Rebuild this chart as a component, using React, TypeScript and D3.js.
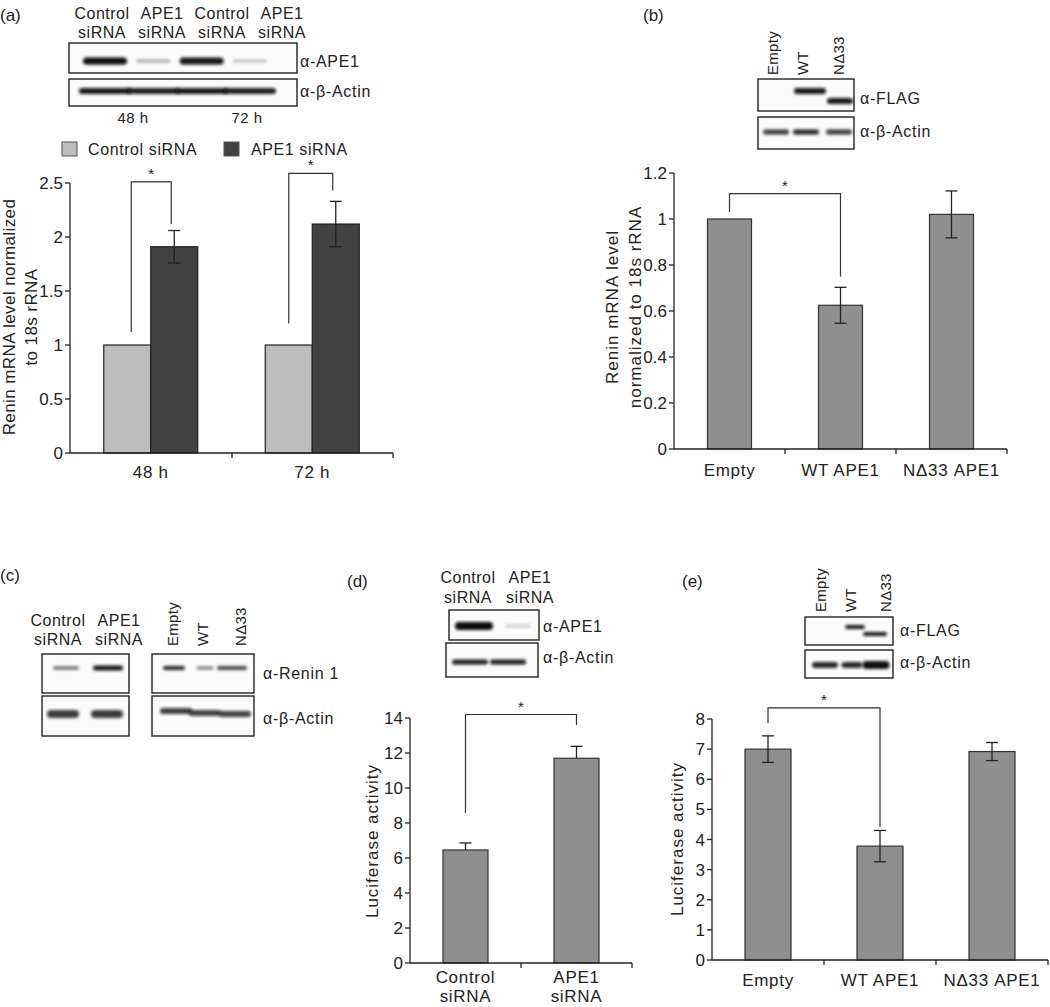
import React from "react";
import * as d3 from "d3";

const FONT = "'Liberation Sans', Arial, Helvetica, sans-serif";
const INK = "#222";

// ---------- Panel (a) ----------
const aGroups = ["48 h", "72 h"];
const aSeries = ["Control siRNA", "APE1 siRNA"];
const aControl = [1.0, 1.0];
const aApe1 = [1.91, 2.12];
const aApe1Err = [0.15, 0.21];
const aTicks = [0, 0.5, 1, 1.5, 2, 2.5];
const aBrackets = [
  [1.12, 2.51, 2.12],
  [1.2, 2.59, 2.43],
];
const aBlotHeaders = [["Control", "siRNA"], ["APE1", "siRNA"], ["Control", "siRNA"], ["APE1", "siRNA"]];
const aBlotApe1 = [1.0, 0.35, 0.95, 0.25];
const aBlotActin = [0.95, 0.92, 0.95, 0.92];
const aTimes = ["48 h", "72 h"];

// ---------- Panel (b) ----------
const bCats = ["Empty", "WT APE1", "NΔ33 APE1"];
const bVals = [1.0, 0.625, 1.02];
const bErr = [0, 0.078, 0.102];
const bTicks = [0, 0.2, 0.4, 0.6, 0.8, 1, 1.2];
const bBracket = [1.03, 1.11, 0.75];
const bLanes = ["Empty", "WT", "NΔ33"];
const bBlotFlag = [0, 0.95, 0.95];
const bBlotActin = [0.8, 0.9, 0.8];

// ---------- Panel (c) ----------
const cLanesL = [["Control", "siRNA"], ["APE1", "siRNA"]];
const cLanesR = ["Empty", "WT", "NΔ33"];
const cReninL = [0.65, 0.95];
const cReninR = [0.9, 0.55, 0.75];
const cActinL = [0.8, 0.8];
const cActinR = [0.8, 0.78, 0.78];

// ---------- Panel (d) ----------
const dCats = [["Control", "siRNA"], ["APE1", "siRNA"]];
const dVals = [6.46, 11.7];
const dErr = [0.4, 0.68];
const dTicks = [0, 2, 4, 6, 8, 10, 12, 14];
const dBracket = [8.57, 14.2, 13.6];
const dBlotApe1 = [1.0, 0.18];
const dBlotActin = [0.92, 0.92];

// ---------- Panel (e) ----------
const eCats = ["Empty", "WT APE1", "NΔ33 APE1"];
const eVals = [7.0, 3.78, 6.92];
const eErr = [0.44, 0.52, 0.3];
const eTicks = [0, 1, 2, 3, 4, 5, 6, 7, 8];
const eBracket = [7.87, 8.37, 4.42];
const eBlotFlag = [0, 0.95, 0.95];
const eBlotActin = [0.88, 0.88, 0.98];

const txt = (extra: any = {}) => ({ fontFamily: FONT, fill: INK, ...extra });
const LBL = { fontSize: 17, letterSpacing: 1.0 };
const CAT = { fontSize: 17, letterSpacing: 0.7 };
const BLT = { fontSize: 16, letterSpacing: 0.7 };

function Band({ cx, cy, w, h, op }: { cx: number; cy: number; w: number; h: number; op: number }) {
  if (op <= 0) return null;
  return (
    <rect x={cx - w / 2} y={cy - h / 2} width={w} height={h} rx={h / 2} ry={h / 2}
      fill="#0a0a0a" opacity={op} filter="url(#blur)" />
  );
}

function BlotBox({ x, y, w, h }: { x: number; y: number; w: number; h: number }) {
  return <rect x={x} y={y} width={w} height={h} fill="#fbfbfb" stroke={INK} strokeWidth={1.4} />;
}

function RotLabel({ x, y, t }: { x: number; y: number; t: string }) {
  return (
    <text transform={`translate(${x + 6},${y}) rotate(-90)`} style={txt({ fontSize: 15, letterSpacing: 0.3 })}>{t}</text>
  );
}

function YAxis({ x, y, ticks, fmt }: { x: number; y: d3.ScaleLinear<number, number>; ticks: number[]; fmt?: (v: number) => string }) {
  const f = fmt || ((v: number) => String(v));
  const r = y.range();
  return (
    <g>
      <line x1={x} x2={x} y1={r[0]} y2={r[1]} stroke={INK} strokeWidth={1.3} />
      {ticks.map((t) => (
        <g key={t}>
          <line x1={x - 5} x2={x} y1={y(t)} y2={y(t)} stroke={INK} strokeWidth={1.3} />
          <text x={x - 7} y={y(t)} dy="0.36em" textAnchor="end" style={txt({ fontSize: 17 })}>{f(t)}</text>
        </g>
      ))}
    </g>
  );
}

function Bracket({ xl, xr, yl, yt, yr }: { xl: number; xr: number; yl: number; yt: number; yr: number }) {
  return (
    <g>
      <path d={`M${xl},${yl}V${yt}H${xr}V${yr}`} fill="none" stroke="#333" strokeWidth={1.2} />
      <text x={(xl + xr) / 2} y={yt - 3} textAnchor="middle" style={txt({ fontSize: 15 })}>*</text>
    </g>
  );
}

function BarChart(p: {
  x0: number; x1: number; yBottom: number; yTop: number; max: number; ticks: number[];
  cats: string[][]; vals: number[]; errs: number[]; upOnly?: boolean; barW: number;
  bracket: number[]; yLabel: string[]; yLabelX: number[]; yLabelY: number; catY: number; lineGap?: number;
}) {
  const x = d3.scaleBand<number>().domain(p.vals.map((_, i) => i)).range([p.x0, p.x1]);
  const y = d3.scaleLinear().domain([0, p.max]).range([p.yBottom, p.yTop]);
  const cx = (i: number) => (x(i) as number) + x.bandwidth() / 2;
  const bounds = [...p.vals.map((_, i) => x(i) as number), p.x1];
  return (
    <g>
      {p.vals.map((v, i) => (
        <rect key={i} x={cx(i) - p.barW / 2} y={y(v)} width={p.barW} height={y(0) - y(v)}
          fill="#8f8f8f" stroke="#333" strokeWidth={1.2} />
      ))}
      {p.vals.map((v, i) => {
        const e = p.errs[i];
        if (!e) return null;
        const lo = p.upOnly ? v : v - e;
        return (
          <g key={"e" + i} stroke="#222" strokeWidth={1.3}>
            <line x1={cx(i)} x2={cx(i)} y1={y(lo)} y2={y(v + e)} />
            <line x1={cx(i) - 6} x2={cx(i) + 6} y1={y(v + e)} y2={y(v + e)} />
            {!p.upOnly && <line x1={cx(i) - 6} x2={cx(i) + 6} y1={y(v - e)} y2={y(v - e)} />}
          </g>
        );
      })}
      <line x1={p.x0} x2={p.x1} y1={y(0)} y2={y(0)} stroke={INK} strokeWidth={1.3} />
      {bounds.slice(1).map((b, i) => (
        <line key={"t" + i} x1={b} x2={b} y1={y(0)} y2={y(0) + 5} stroke={INK} strokeWidth={1.3} />
      ))}
      <YAxis x={p.x0} y={y} ticks={p.ticks} />
      {p.cats.map((c, i) => (
        <text key={"c" + i} x={cx(i)} y={p.catY} textAnchor="middle" style={txt(CAT)}>
          {c.map((line, j) => (
            <tspan key={j} x={cx(i)} dy={j === 0 ? "0.36em" : (p.lineGap || 21)}>{line}</tspan>
          ))}
        </text>
      ))}
      <Bracket xl={cx(0)} xr={cx(1)} yl={y(p.bracket[0])} yt={y(p.bracket[1])} yr={y(p.bracket[2])} />
      {p.yLabel.map((l, i) => (
        <text key={"yl" + i} transform={`translate(${p.yLabelX[i]},${p.yLabelY}) rotate(-90)`}
          dy="0.36em" textAnchor="middle" style={txt(LBL)}>{l}</text>
      ))}
    </g>
  );
}

function PanelA() {
  const g = d3.scaleBand<string>().domain(aGroups).range([70, 393]);
  const s = d3.scaleBand<string>().domain(aSeries).range([0, 94]);
  const y = d3.scaleLinear().domain([0, 2.5]).range([453, 183]);
  const colors = ["#bdbdbd", "#424242"];
  const series = [aControl, aApe1];
  const gx = (k: string) => (g(k) as number) + g.bandwidth() / 2 - 47;
  const lanes = d3.scalePoint<number>().domain([0, 1, 2, 3]).range([105, 250]);
  const headX = d3.scalePoint<number>().domain([0, 1, 2, 3]).range([102, 282]);
  return (
    <g>
      <text x={0} y={21} style={txt({ fontSize: 17 })}>(a)</text>
      {aBlotHeaders.map((h, i) => (
        <text key={i} x={headX(i)} y={19} textAnchor="middle" style={txt({ fontSize: 16, letterSpacing: 0.5 })}>
          <tspan x={headX(i)}>{h[0]}</tspan>
          <tspan x={headX(i)} dy={19}>{h[1]}</tspan>
        </text>
      ))}
      <BlotBox x={69} y={43} w={228} h={30} />
      <BlotBox x={69} y={79} w={228} h={27} />
      {aBlotApe1.map((v, i) => (
        <Band key={"a" + i} cx={lanes(i) as number} cy={61} w={v > 0.5 ? 44 : 34} h={v > 0.5 ? 7 : 3} op={v} />
      ))}
      {aBlotActin.map((v, i) => (
        <Band key={"b" + i} cx={lanes(i) as number} cy={91} w={52} h={6} op={v} />
      ))}
      <text x={300} y={61} dy="0.36em" style={txt(BLT)}>α-APE1</text>
      <text x={300} y={91} dy="0.36em" style={txt(BLT)}>α-β-Actin</text>
      {aTimes.map((t, i) => (
        <text key={t} x={i === 0 ? 133 : 247} y={118} dy="0.36em" textAnchor="middle" style={txt({ fontSize: 15, letterSpacing: 0.4 })}>{t}</text>
      ))}
      {aSeries.map((sName, i) => (
        <g key={sName}>
          <rect x={i === 0 ? 62 : 224} y={142} width={15} height={14} fill={colors[i]} stroke="#555" strokeWidth={1} />
          <text x={i === 0 ? 88 : 251} y={149} dy="0.36em" style={txt({ fontSize: 16, letterSpacing: 0.6 })}>{sName}</text>
        </g>
      ))}
      {aGroups.map((grp, gi) =>
        series.map((vals, si) => (
          <rect key={grp + si} x={gx(grp) + (s(aSeries[si]) as number)} y={y(vals[gi])}
            width={s.bandwidth()} height={y(0) - y(vals[gi])} fill={colors[si]} stroke="#222" strokeWidth={1.2} />
        ))
      )}
      {aGroups.map((grp, gi) => {
        const cx = gx(grp) + (s(aSeries[1]) as number) + s.bandwidth() / 2;
        const v = aApe1[gi], e = aApe1Err[gi];
        return (
          <g key={"err" + grp} stroke="#222" strokeWidth={1.3}>
            <line x1={cx} x2={cx} y1={y(v - e)} y2={y(v + e)} />
            <line x1={cx - 6} x2={cx + 6} y1={y(v + e)} y2={y(v + e)} />
            <line x1={cx - 6} x2={cx + 6} y1={y(v - e)} y2={y(v - e)} />
          </g>
        );
      })}
      {aGroups.map((grp, gi) => {
        const xl = gx(grp) + (s(aSeries[0]) as number) + s.bandwidth() / 2 + (gi === 0 ? 4 : 0);
        const xr = gx(grp) + (s(aSeries[1]) as number) + s.bandwidth() / 2 - 3;
        const b = aBrackets[gi];
        return <Bracket key={"br" + grp} xl={xl} xr={xr} yl={y(b[0])} yt={y(b[1])} yr={y(b[2])} />;
      })}
      <line x1={70} x2={393} y1={453} y2={453} stroke={INK} strokeWidth={1.3} />
      {[232, 393].map((b) => (
        <line key={b} x1={b} x2={b} y1={453} y2={458} stroke={INK} strokeWidth={1.3} />
      ))}
      <YAxis x={70} y={y} ticks={aTicks} />
      {aGroups.map((grp) => (
        <text key={"x" + grp} x={(g(grp) as number) + g.bandwidth() / 2} y={472} dy="0.36em" textAnchor="middle"
          style={txt(CAT)}>{grp}</text>
      ))}
      <text transform="translate(9,317) rotate(-90)" dy="0.36em" textAnchor="middle" style={txt({ fontSize: 17, letterSpacing: 0.4 })}>
        Renin mRNA level normalized
      </text>
      <text transform="translate(31,317) rotate(-90)" dy="0.36em" textAnchor="middle" style={txt({ fontSize: 17, letterSpacing: 0.4 })}>
        to 18s rRNA
      </text>
    </g>
  );
}

function PanelB() {
  const laneX = [776, 806, 839];
  const labX = [772, 802, 838];
  return (
    <g>
      <text x={643} y={21} style={txt({ fontSize: 17 })}>(b)</text>
      {bLanes.map((l, i) => <RotLabel key={l} x={labX[i]} y={75} t={l} />)}
      <BlotBox x={758} y={79} w={96} h={32} />
      <BlotBox x={758} y={117} w={96} h={32} />
      {bBlotFlag.map((v, i) => (
        <Band key={"f" + i} cx={i === 1 ? 810 : laneX[i] + 1} cy={i === 1 ? 91 : 101} w={i === 1 ? 32 : 26} h={6} op={v} />
      ))}
      {bBlotActin.map((v, i) => (
        <Band key={"ac" + i} cx={laneX[i]} cy={132} w={26} h={5} op={v} />
      ))}
      <text x={860} y={98} dy="0.36em" style={txt(BLT)}>α-FLAG</text>
      <text x={860} y={131} dy="0.36em" style={txt(BLT)}>α-β-Actin</text>
      <BarChart x0={674} x1={1007} yBottom={449} yTop={173} max={1.2} ticks={bTicks}
        cats={bCats.map((c) => [c])} vals={bVals} errs={bErr} barW={44} bracket={bBracket}
        yLabel={["Renin mRNA level", "normalized to 18s rRNA"]} yLabelX={[612, 635]} yLabelY={307} catY={470} />
    </g>
  );
}

function PanelC() {
  const lX = [64, 108];
  const rX = [174, 205, 232];
  return (
    <g>
      <text x={0} y={581} style={txt({ fontSize: 17 })}>(c)</text>
      {cLanesL.map((h, i) => (
        <text key={i} x={i === 0 ? 58 : 119} y={626} textAnchor="middle" style={txt({ fontSize: 16, letterSpacing: 0.5 })}>
          <tspan x={i === 0 ? 58 : 119}>{h[0]}</tspan>
          <tspan x={i === 0 ? 58 : 119} dy={19}>{h[1]}</tspan>
        </text>
      ))}
      {cLanesR.map((l, i) => <RotLabel key={l} x={[172, 202, 240][i]} y={646} t={l} />)}
      <BlotBox x={42} y={654} w={87} h={39} />
      <BlotBox x={42} y={696} w={87} h={40} />
      <BlotBox x={152} y={654} w={102} h={39} />
      <BlotBox x={152} y={696} w={102} h={40} />
      {cReninL.map((v, i) => (
        <Band key={"rl" + i} cx={i === 0 ? 66 : lX[i]} cy={668} w={i === 0 ? 26 : 30} h={i === 0 ? 3 : 5} op={v} />
      ))}
      {cReninR.map((v, i) => (
        <Band key={"rr" + i} cx={rX[i]} cy={668} w={[22, 17, 30][i]} h={i === 1 ? 3 : 4} op={v} />
      ))}
      {cActinL.map((v, i) => (
        <Band key={"al" + i} cx={lX[i] - 1} cy={714} w={32} h={8} op={v} />
      ))}
      {cActinR.map((v, i) => (
        <Band key={"ar" + i} cx={[176, 205, 235][i]} cy={[711, 713, 714][i]} w={32} h={6} op={v} />
      ))}
      <text x={263} y={673} dy="0.36em" style={txt(BLT)}>α-Renin 1</text>
      <text x={263} y={718} dy="0.36em" style={txt(BLT)}>α-β-Actin</text>
    </g>
  );
}

function PanelD() {
  const lanes = [474, 518];
  const act = [470, 508];
  return (
    <g>
      <text x={347} y={587} style={txt({ fontSize: 17 })}>(d)</text>
      {dCats.map((h, i) => (
        <text key={i} x={i === 0 ? 468 : 530} y={583} textAnchor="middle" style={txt({ fontSize: 16, letterSpacing: 0.5 })}>
          <tspan x={i === 0 ? 468 : 530}>{h[0]}</tspan>
          <tspan x={i === 0 ? 468 : 530} dy={20}>{h[1]}</tspan>
        </text>
      ))}
      <BlotBox x={449} y={610} w={90} h={30} />
      <BlotBox x={446} y={643} w={92} h={34} />
      {dBlotApe1.map((v, i) => (
        <Band key={"d" + i} cx={lanes[i]} cy={626} w={i === 0 ? 38 : 26} h={i === 0 ? 8 : 3} op={v} />
      ))}
      {dBlotActin.map((v, i) => (
        <Band key={"da" + i} cx={act[i]} cy={662} w={36} h={5} op={v} />
      ))}
      <text x={543} y={626} dy="0.36em" style={txt(BLT)}>α-APE1</text>
      <text x={543} y={657} dy="0.36em" style={txt(BLT)}>α-β-Actin</text>
      <BarChart x0={410} x1={632} yBottom={963} yTop={718} max={14} ticks={dTicks}
        cats={dCats} vals={dVals} errs={dErr} upOnly barW={45} bracket={dBracket}
        yLabel={["Luciferase activity"]} yLabelX={[372]} yLabelY={841} catY={977} lineGap={19} />
    </g>
  );
}

function PanelE() {
  const act = [825, 852, 876];
  return (
    <g>
      <text x={682} y={587} style={txt({ fontSize: 17 })}>(e)</text>
      {bLanes.map((l, i) => <RotLabel key={l} x={[820, 850, 885][i]} y={612} t={l} />)}
      <BlotBox x={805} y={617} w={88} h={28} />
      <BlotBox x={805} y={650} w={88} h={28} />
      {eBlotFlag.map((v, i) => (
        <Band key={"ef" + i} cx={i === 1 ? 855 : 875} cy={i === 1 ? 627 : 634} w={i === 1 ? 20 : 24} h={4} op={v} />
      ))}
      {eBlotActin.map((v, i) => (
        <Band key={"ea" + i} cx={act[i]} cy={665} w={[26, 21, 27][i]} h={i === 2 ? 8 : 6} op={v} />
      ))}
      <text x={900} y={630} dy="0.36em" style={txt(BLT)}>α-FLAG</text>
      <text x={900} y={662} dy="0.36em" style={txt(BLT)}>α-β-Actin</text>
      <BarChart x0={712} x1={1048} yBottom={960} yTop={719} max={8} ticks={eTicks}
        cats={eCats.map((c) => [c])} vals={eVals} errs={eErr} barW={46} bracket={eBracket}
        yLabel={["Luciferase activity"]} yLabelX={[677]} yLabelY={839} catY={980} />
    </g>
  );
}

export default function App() {
  return (
    <svg width={1050} height={1007} viewBox="0 0 1050 1007"
      style={{ position: "absolute", left: 0, top: 0, background: "#fff" }}>
      <defs>
        <filter id="blur" x="-30%" y="-100%" width="160%" height="300%">
          <feGaussianBlur stdDeviation="1.6" />
        </filter>
      </defs>
      <rect width={1050} height={1007} fill="#fff" />
      <PanelA />
      <PanelB />
      <PanelC />
      <PanelD />
      <PanelE />
    </svg>
  );
}
